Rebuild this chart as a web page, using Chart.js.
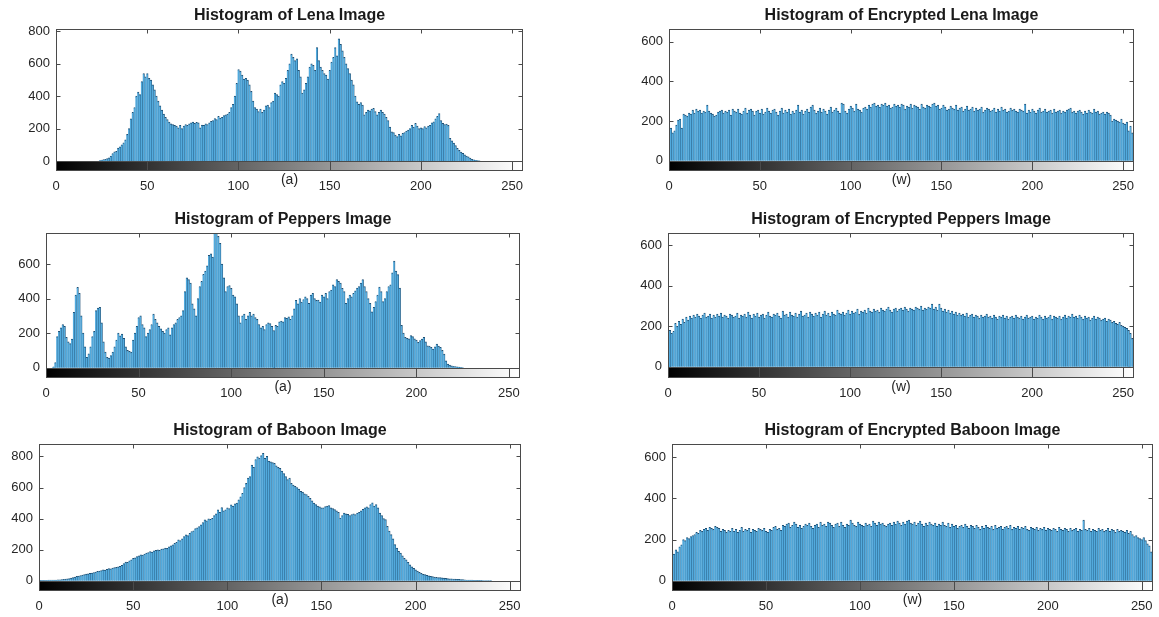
<!DOCTYPE html>
<html>
<head>
<meta charset="utf-8">
<script src="https://cdn.jsdelivr.net/npm/chart.js@4.4.0/dist/chart.umd.min.js"></script>
<style>
  body { margin: 0; background: #fff; overflow: hidden; }
  #wrap { position: relative; width: 1159px; height: 617px; }
  .panel { position: absolute; }
</style>
</head>
<body>
<div id="wrap"></div>
<script>
// grey levels 0..255 (x categories)
var grayLevels = [];
for (var g = 0; g < 256; g++) grayLevels.push(g);

var xTickValues = [0, 50, 100, 150, 200, 250];
var yTicksTall = [0, 200, 400, 600, 800];
var yTicksShort = [0, 200, 400, 600];

// pixel counts, 16 grey levels per row
var lenaCounts = [
  0,0,0,0,0,0,0,0,0,0,0,0,0,0,0,0,
  0,0,0,0,0,0,0,0,3,5,8,10,15,20,30,45,
  56,60,80,88,100,112,130,165,200,260,300,330,400,425,410,490,
  540,520,540,510,500,470,440,400,370,340,315,290,270,255,240,230,
  225,220,215,205,220,200,215,225,220,230,235,240,232,238,235,205,
  222,220,230,225,235,245,250,262,255,275,265,270,280,285,290,300,
  330,350,400,480,565,555,530,505,510,500,470,430,370,330,320,305,
  320,300,315,340,345,330,360,370,420,410,400,470,490,480,510,560,
  600,660,640,620,630,560,520,420,440,480,520,580,600,590,560,700,
  620,580,560,540,530,505,560,610,640,700,650,755,720,680,640,600,
  570,540,500,470,400,365,350,360,345,285,300,315,310,320,325,305,
  285,300,315,300,290,270,250,210,180,175,160,150,165,155,170,175,
  185,190,200,220,210,232,215,200,205,200,212,205,215,220,235,242,
  260,275,293,250,232,225,228,220,140,125,110,95,78,65,55,47,
  38,30,25,18,10,7,4,3,1,0,0,0,0,0,0,0,
  0,0,0,0,0,0,0,0,0,0,0,0,0,0,0,0
];

var peppersCounts = [
  0,0,0,0,5,30,180,210,230,250,240,175,150,140,165,320,
  420,465,430,300,200,120,60,80,120,180,210,330,345,350,260,150,
  90,60,55,70,90,120,160,200,185,195,170,120,100,95,90,160,
  200,240,290,300,250,230,180,200,220,250,310,280,260,240,225,210,
  200,220,230,190,230,250,260,280,290,300,330,440,520,510,490,370,
  340,300,400,470,500,540,560,590,650,660,640,780,790,760,720,600,
  520,440,470,475,460,420,410,370,300,260,300,310,280,300,320,300,
  310,290,280,250,230,240,220,250,260,255,240,215,245,240,265,270,
  265,290,285,295,280,300,340,390,370,400,380,395,410,400,372,420,
  431,400,390,392,380,421,410,431,400,441,450,480,470,510,500,490,
  460,441,372,400,421,410,431,445,461,470,490,510,470,441,400,372,
  323,350,382,420,466,441,382,400,441,470,480,549,617,560,539,461,
  245,200,176,170,167,186,180,167,160,147,157,165,176,150,127,125,
  118,108,120,137,125,118,100,78,39,20,15,10,8,6,5,3,
  2,1,0,0,0,0,0,0,0,0,0,0,0,0,0,0,
  0,0,0,0,0,0,0,0,0,0,0,0,0,0,0,0
];

var baboonCounts = [
  2,2,3,3,3,4,4,5,5,5,6,6,8,9,10,12,
  14,17,20,24,28,30,34,36,40,43,44,48,50,53,56,60,
  62,66,70,68,74,78,76,81,84,86,90,92,100,110,120,118,
  128,135,145,148,155,160,167,165,172,178,182,188,185,192,195,199,
  196,204,206,210,208,218,225,231,240,248,263,258,270,285,295,290,
  305,317,322,335,340,349,360,375,392,385,398,395,402,420,430,456,
  440,471,450,456,470,465,488,480,495,499,520,540,563,600,627,660,
  670,745,730,780,798,790,805,820,788,800,770,766,760,755,740,730,
  723,705,690,670,651,660,627,615,608,600,590,576,570,560,555,544,
  530,515,500,490,480,475,469,470,478,480,484,470,465,458,450,440,
  404,420,436,430,428,420,426,430,425,436,440,450,460,469,475,470,
  490,501,480,490,470,436,420,400,393,350,320,297,270,232,210,190,
  178,160,145,135,118,103,90,80,71,62,54,48,42,39,35,31,
  28,26,24,22,21,20,19,17,16,14,13,12,11,10,9,9,
  8,7,6,5,5,4,4,3,3,2,2,2,1,1,1,1,
  1,0,0,0,0,0,0,0,0,0,0,0,0,0,0,0
];

var encLenaCounts = [
  150,165,140,150,180,205,210,165,235,230,225,240,235,255,240,260,
  250,255,240,250,245,280,250,240,235,225,230,245,250,255,240,250,
  245,255,230,260,250,245,260,240,235,250,265,240,255,260,250,230,
  250,255,240,260,235,245,265,250,240,255,260,245,230,250,265,240,
  255,245,260,235,250,240,255,280,245,255,235,250,260,245,270,280,
  255,240,250,265,245,260,250,235,255,270,245,255,265,250,240,290,
  285,250,240,260,275,265,250,285,260,255,245,265,270,260,280,270,
  285,290,275,280,270,285,280,290,275,280,265,270,285,275,280,270,
  285,280,260,275,270,285,265,280,275,270,260,285,270,265,280,275,
  270,285,290,275,280,260,265,280,270,255,260,275,265,260,280,255,
  265,270,250,260,275,255,260,270,250,265,255,260,270,245,255,265,
  260,250,255,265,245,260,250,270,255,260,245,250,265,255,260,250,
  245,260,255,250,285,240,255,245,260,250,240,255,265,245,250,260,
  245,250,255,240,260,245,250,255,240,250,245,255,260,265,245,250,
  240,250,255,245,235,250,240,255,245,240,260,245,250,235,240,245,
  235,245,240,230,200,210,205,200,195,210,190,185,195,150,175,140
];

var encPeppersCounts = [
  170,180,165,175,215,200,225,210,235,220,245,230,250,240,255,245,
  260,250,240,255,265,245,250,260,240,255,245,260,250,265,245,255,
  250,240,260,255,245,250,265,240,255,250,260,245,270,255,240,260,
  250,265,245,255,260,240,255,270,250,245,260,255,265,250,240,275,
  255,260,245,270,255,250,265,245,260,275,250,255,265,245,270,260,
  250,265,255,270,245,260,275,255,265,250,270,260,255,280,265,260,
  270,255,265,280,260,275,265,270,285,260,275,270,280,265,290,275,
  270,285,275,280,270,290,280,275,285,295,280,270,285,290,275,285,
  290,280,295,285,275,290,285,280,295,290,285,300,280,290,285,295,
  290,310,285,295,280,310,290,275,285,270,280,265,275,260,270,255,
  265,255,260,250,265,245,255,260,245,255,250,240,255,245,250,260,
  245,250,240,255,245,235,250,245,255,240,250,235,245,250,240,255,
  245,240,250,235,245,255,240,245,250,235,245,240,255,245,235,250,
  240,245,255,235,250,245,240,250,235,245,255,240,250,245,260,245,
  250,240,255,245,235,250,240,245,230,240,250,235,245,240,230,235,
  240,225,235,230,220,225,215,210,220,205,200,195,190,180,165,140
];

var encBaboonCounts = [
  145,130,150,140,165,175,200,195,210,205,215,220,225,235,230,245,
  240,250,255,245,260,255,250,265,260,255,240,250,245,235,245,240,
  255,240,250,235,245,260,240,250,245,255,235,250,245,240,255,250,
  245,255,240,235,250,245,260,265,250,255,245,270,265,275,280,260,
  270,285,275,260,270,255,265,275,270,280,265,255,270,275,260,285,
  270,275,265,285,280,270,260,275,280,265,285,270,260,275,270,295,
  280,270,265,285,275,270,265,280,270,275,265,290,280,270,285,275,
  280,270,265,275,280,270,285,275,290,280,270,285,275,290,295,280,
  275,285,270,280,290,275,265,280,270,285,275,270,280,265,275,270,
  285,270,265,280,260,275,265,270,255,265,270,260,275,265,255,270,
  265,255,270,260,250,265,255,270,260,255,265,250,270,255,260,265,
  250,260,265,255,270,250,260,255,265,250,260,255,265,250,245,260,
  255,250,260,245,255,250,260,245,255,250,245,255,250,240,260,250,
  245,255,250,240,255,245,250,255,240,250,245,295,250,245,255,240,
  250,245,240,255,245,250,240,245,255,240,250,245,235,250,240,245,
  240,235,245,230,240,225,215,220,210,205,200,210,195,180,170,140
];

// layout: plot box [left, top, right, bottom] in page pixels
var panels = [
  { title: 'Histogram of Lena Image', xlabel: '(a)', counts: lenaCounts, yTicks: yTicksTall, yMin: -62, yMax: 815, box: [56, 29, 523, 171] },
  { title: 'Histogram of Encrypted Lena Image', xlabel: '(w)', counts: encLenaCounts, yTicks: yTicksShort, yMin: -52, yMax: 664, box: [669, 29, 1134, 171] },
  { title: 'Histogram of Peppers Image', xlabel: '(a)', counts: peppersCounts, yTicks: yTicksShort, yMin: -60, yMax: 780, box: [46, 233, 520, 378] },
  { title: 'Histogram of Encrypted Peppers Image', xlabel: '(w)', counts: encPeppersCounts, yTicks: yTicksShort, yMin: -55, yMax: 660, box: [668, 233, 1134, 378] },
  { title: 'Histogram of Baboon Image', xlabel: '(a)', counts: baboonCounts, yTicks: yTicksTall, yMin: -66, yMax: 880, box: [39, 444, 521, 591] },
  { title: 'Histogram of Encrypted Baboon Image', xlabel: '(w)', counts: encBaboonCounts, yTicks: yTicksShort, yMin: -50, yMax: 665, box: [672, 444, 1153, 591] }
];

var FONT = "'Liberation Sans', Arial, sans-serif";
var Y_AXIS_W = 40, X_AXIS_H = 26, PAD_TOP = 30, PAD_RIGHT = 14;

// MATLAB-like frame: grey ramp under the bars, box, inward ticks, title and xlabel
var matlabFrame = {
  id: 'matlabFrame',
  afterDatasetsDraw: function(chart) {
    var ctx = chart.ctx, a = chart.chartArea;
    var xs = chart.scales.x, ys = chart.scales.y;
    var opts = chart.options.plugins.matlabFrame;
    var zero = Math.round(ys.getPixelForValue(0));
    var L = Math.round(a.left) + 0.5, R = Math.round(a.right) - 0.5;
    var T = Math.round(a.top) + 0.5, B = Math.round(a.bottom) - 0.5;

    ctx.save();
    var grad = ctx.createLinearGradient(xs.getPixelForValue(0), 0, xs.getPixelForValue(255), 0);
    grad.addColorStop(0, '#000000');
    grad.addColorStop(1, '#ffffff');
    ctx.fillStyle = grad;
    ctx.fillRect(a.left, zero, a.right - a.left, a.bottom - zero);

    ctx.strokeStyle = '#4a4a4a';
    ctx.lineWidth = 1;
    ctx.strokeRect(L, T, R - L, B - T);
    ctx.beginPath();
    ctx.moveTo(L, zero + 0.5);
    ctx.lineTo(R, zero + 0.5);
    ctx.stroke();

    ctx.beginPath();
    xTickValues.forEach(function(v) {
      var x = Math.round(xs.getPixelForValue(v)) + 0.5;
      ctx.moveTo(x, T); ctx.lineTo(x, T + 4);
      ctx.moveTo(x, zero); ctx.lineTo(x, B);
    });
    opts.yTicks.forEach(function(v) {
      if (v <= 0) return;
      var y = Math.round(ys.getPixelForValue(v)) + 0.5;
      ctx.moveTo(L, y); ctx.lineTo(L + 4, y);
      ctx.moveTo(R, y); ctx.lineTo(R - 4, y);
    });
    ctx.stroke();

    ctx.fillStyle = '#1a1a1a';
    ctx.textAlign = 'center';
    ctx.textBaseline = 'middle';
    ctx.font = 'bold 16px ' + FONT;
    ctx.fillText(opts.title, (a.left + a.right) / 2, a.top - 13);
    ctx.fillStyle = '#262626';
    ctx.font = '14px ' + FONT;
    ctx.fillText(opts.xlabel, (a.left + a.right) / 2, a.bottom + 9);
    ctx.restore();
  }
};

var wrap = document.getElementById('wrap');

panels.forEach(function(p) {
  var left = p.box[0] - Y_AXIS_W, top = p.box[1] - PAD_TOP;
  var w = p.box[2] - p.box[0] + Y_AXIS_W + PAD_RIGHT;
  var h = p.box[3] - p.box[1] + PAD_TOP + X_AXIS_H;

  var div = document.createElement('div');
  div.className = 'panel';
  div.style.left = left + 'px';
  div.style.top = top + 'px';
  var canvas = document.createElement('canvas');
  canvas.width = w;
  canvas.height = h;
  div.appendChild(canvas);
  wrap.appendChild(div);

  var points = grayLevels.map(function(lvl, i) { return { x: lvl, y: p.counts[i] }; });

  new Chart(canvas, {
    type: 'bar',
    data: {
      datasets: [{
        data: points,
        backgroundColor: '#52aadd',
        borderColor: '#1f4f73',
        borderWidth: { top: 1, right: 0.6, left: 0, bottom: 0 },
        borderSkipped: 'start',
        barPercentage: 1,
        categoryPercentage: 1
      }]
    },
    options: {
      responsive: false,
      animation: false,
      layout: { padding: { top: PAD_TOP, right: PAD_RIGHT, left: 0, bottom: 0 } },
      plugins: {
        legend: { display: false },
        tooltip: { enabled: false },
        matlabFrame: { title: p.title, xlabel: p.xlabel, yTicks: p.yTicks }
      },
      scales: {
        x: {
          type: 'linear',
          min: 0,
          max: 256,
          offset: false,
          grid: { display: false, drawTicks: false },
          border: { display: false },
          ticks: { color: '#262626', font: { family: FONT, size: 13 }, padding: 8, maxRotation: 0, autoSkip: false },
          afterBuildTicks: function(s) { s.ticks = xTickValues.map(function(v) { return { value: v }; }); },
          afterFit: function(s) { s.height = X_AXIS_H; }
        },
        y: {
          min: p.yMin,
          max: p.yMax,
          grid: { display: false, drawTicks: false },
          border: { display: false },
          ticks: { color: '#262626', font: { family: FONT, size: 13 }, padding: 6 },
          afterBuildTicks: function(s) { s.ticks = p.yTicks.map(function(v) { return { value: v }; }); },
          afterFit: function(s) { s.width = Y_AXIS_W; }
        }
      }
    },
    plugins: [matlabFrame]
  });
});
</script>
</body>
</html>
